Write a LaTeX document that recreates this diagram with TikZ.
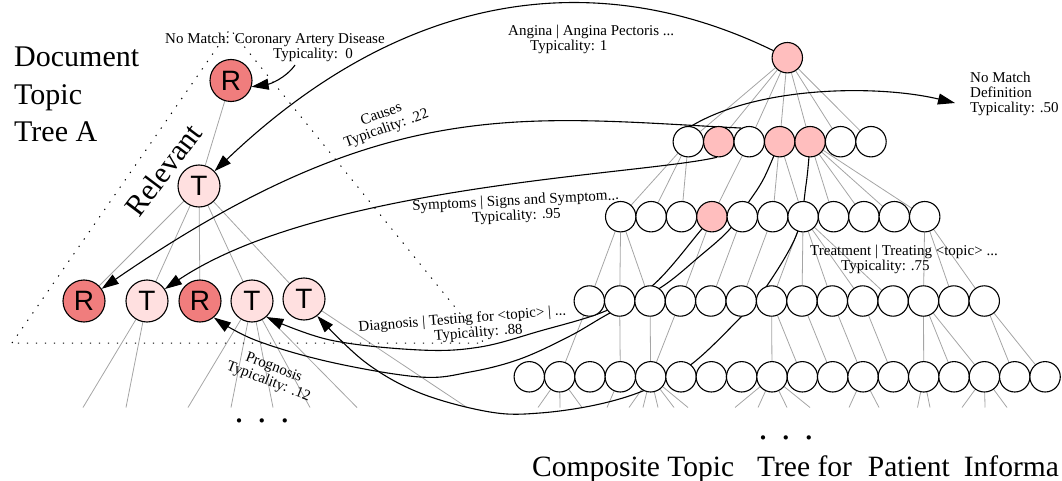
\documentclass[tikz,border=0pt]{standalone}
\usepackage{fontspec}
\setmainfont{Liberation Serif}
\setsansfont{Liberation Sans}
\usetikzlibrary{arrows.meta}
\pgfdeclarelayer{background}
\pgfsetlayers{background,main}
\definecolor{relred}{RGB}{240,125,125}
\definecolor{topicpink}{RGB}{255,224,224}
\definecolor{hitpink}{RGB}{255,190,190}
\definecolor{treegray}{RGB}{165,165,165}
\begin{document}
\begin{tikzpicture}[x=1pt,y=-1pt,
  ctnode/.style={circle,draw,line width=1.1pt,minimum size=30.4pt,inner sep=0pt,fill=white},
  hitnode/.style={ctnode,fill=hitpink},
  docnode/.style={circle,draw,line width=1.1pt,minimum size=42pt,inner sep=0pt,font=\sffamily\fontsize{28}{28}\selectfont},
  relnode/.style={docnode,fill=relred},
  topnode/.style={docnode,fill=topicpink},
  edge/.style={treegray,line width=0.8pt},
  link/.style={line width=1.1pt},
  linkarrow/.style={link,-{Triangle[length=17pt,width=11pt]}},
  lbl/.style={font=\fontsize{15}{15}\selectfont,inner sep=0pt},
  bigtxt/.style={font=\fontsize{30}{37.5}\selectfont,inner sep=0pt},
  region/.style={line width=1pt,dash pattern=on 1.3pt off 7.7pt}
]
\useasboundingbox (0,0) rectangle (1062,481);

% ---------- composite topic tree ----------
\node[hitnode] (c0) at (787.3,57.7) {};
\foreach \i/\s in {0/ctnode,1/hitnode,2/ctnode,3/hitnode,4/hitnode,5/ctnode,6/ctnode}
  \node[\s] (a\i) at ({688.3+30.45*\i},141.7) {};
\foreach \i/\s in {0/ctnode,1/ctnode,2/ctnode,3/hitnode,4/ctnode,5/ctnode,6/ctnode,7/ctnode,8/ctnode,9/ctnode,10/ctnode}
  \node[\s] (b\i) at ({620.7+30.4*\i},216.7) {};
\foreach \i in {0,...,13}
  \node[ctnode] (d\i) at ({589.3+30.38*\i},301) {};
\foreach \i in {0,...,17}
  \node[ctnode] (e\i) at ({529.3+30.34*\i},376.8) {};

% ---------- document topic tree ----------
\node[relnode] (dR0) at (231,80.5) {R};
\node[topnode] (dT0) at (199,186) {T};
\node[relnode] (dR1) at (84,301) {R};
\node[topnode] (dT1) at (147,301) {T};
\node[relnode] (dR2) at (200,301) {R};
\node[topnode] (dT2) at (252,301) {T};
\node[topnode] (dT3) at (304,299) {T};

% ---------- texts ----------
\node[bigtxt,anchor=north west,align=left] (ttl) at (14,47) {Document\\Topic\\Tree A};
\node[font=\fontsize{30}{30}\selectfont,rotate=53,inner sep=0pt] (lrel) at (163,170) {Relevant};
\node[font=\fontsize{29.5}{30}\selectfont,anchor=base west,inner sep=0pt] (ctitle) at (532,476)
  {Composite Topic\hspace*{15.6pt} Tree for\hspace*{8.6pt} Patient\hspace*{6.6pt} Informa};
\node[font=\fontsize{36}{36}\selectfont,anchor=base,inner sep=0pt] (ldots) at (262,422) {.\hspace{14pt}.\hspace{14pt}.};
\node[font=\fontsize{36}{36}\selectfont,anchor=base,inner sep=0pt] (rdots) at (786,439) {.\hspace{14pt}.\hspace{14pt}.};

\node[lbl,anchor=north west,align=left] (lcor) at (165,33) {No Match: Coronary Artery Disease\\\hspace*{108pt}Typicality:\ \ 0};
\node[lbl,anchor=north west,align=left] (lang) at (508,25) {Angina | Angina Pectoris ...\\\hspace*{22pt}Typicality: 1};
\node[lbl,rotate=20,align=center] (lcau) at (384,122) {Causes\\Typicality: .22};
\node[lbl,rotate=3,align=center] (lsym) at (516,209) {Symptoms | Signs and Symptom...\\Typicality: .95};
\node[lbl,rotate=4.5,align=center] (ldia) at (463,327) {Diagnosis | Testing for <topic> | ...\\\hspace*{30pt}Typicality: .88};
\node[lbl,rotate=-21,align=center] (lpro) at (271,375) {Prognosis\\Typicality: .12};
\node[lbl,anchor=north west,align=left] (ltre) at (810,245) {Treatment | Treating <topic> ...\\\hspace*{31pt}Typicality: .75};
\node[lbl,anchor=north west,align=left] (ldef) at (970,72) {No Match\\Definition\\Typicality: .50};

\coordinate (corstart) at (295,65);
\coordinate (deftip) at (955,103);

% relevance region
\draw[region] (12,343) -- (230,29) -- (484,343) -- cycle;

\begin{pgfonlayer}{background}
  % composite tree edges
  \foreach \i in {0,...,6} \draw[edge] (c0) -- (a\i);
  \foreach \p/\c in {a0/b0,a0/b1,a0/b2,a2/b3,a3/b5,a3/b6,a4/b7,a4/b8,a4/b9,a4/b10}
    \draw[edge] (\p) -- (\c);
  \foreach \p/\c in {b0/d0,b0/d1,b0/d2,b3/d3,b4/d4,b5/d5,b6/d6,b6/d7,b6/d8,b6/d9,b6/d10,b10/d11,b10/d12,b10/d13}
    \draw[edge] (\p) -- (\c);
  \foreach \p/\c in {d0/e1,d1/e3,d2/e4,d3/e4,d6/e8,d6/e9,d7/e10,d8/e11,d9/e12,d11/e13,d11/e14,d11/e15,d13/e16,d13/e17}
    \draw[edge] (\p) -- (\c);
  % document tree edges
  \draw[edge] (dR0) -- (dT0);
  \foreach \c in {dR1,dT1,dR2,dT2,dT3} \draw[edge] (dT0) -- (\c);
  % open branches below the last rows
  \foreach \n/\x [count=\k] in {dT1/83,dT1/126,dT2/188,dT2/231,dT2/273,dT2/310,dT2/357,dT3/467,
      e1/538,e1/560,e1/582,e3/607,e4/629,e4/643,e4/658,e4/674,e4/688,
      e8/735,e8/758,e8/787,e8/810,e11/849,e11/879,e13/917.5,e13/930,e15/962,e15/985,e15/1007}
    {\coordinate (stub\k) at (\x,407.5); \draw[edge] (\n) -- (stub\k);}

  % topic links
  \draw[linkarrow] (corstart) .. controls (286,78) and (270,84) .. (dR0.-17);
  \draw[linkarrow] (c0.center) .. controls (620,-30) and (420,-25) .. (dT0);
  \draw[linkarrow] (a2.120) .. controls (522,117) and (386,93) .. (dR1);
  \draw[linkarrow] (a1.-97) .. controls (640,175) and (320,185) .. (dT1);
  \draw[linkarrow] plot[smooth,tension=0.6] coordinates {(b3.center) (701,230) (652,286) (603,312) (540,331) (480,347) (420,350) (330,340) (dT2.-48)};
  \draw[linkarrow] plot[smooth,tension=0.6] coordinates {(a3.center) (764,178) (748,203) (729,230) (700,256) (660,288) (610,313) (570,336) (520,359) (470,372) (420,377) (330,362) (255,340) (dR2.-50)};
  \draw[linkarrow] plot[smooth,tension=0.6] coordinates {(a4.center) (806,185) (796,236) (762,293) (740,318) (693,363) (650,388) (600,404) (540,413) (490,412) (420,393) (365,362) (dT3.-52)};
  \draw[linkarrow] (a0.80) .. controls (760,85) and (880,85) .. (deftip);
\end{pgfonlayer}
\end{tikzpicture}
\end{document}
